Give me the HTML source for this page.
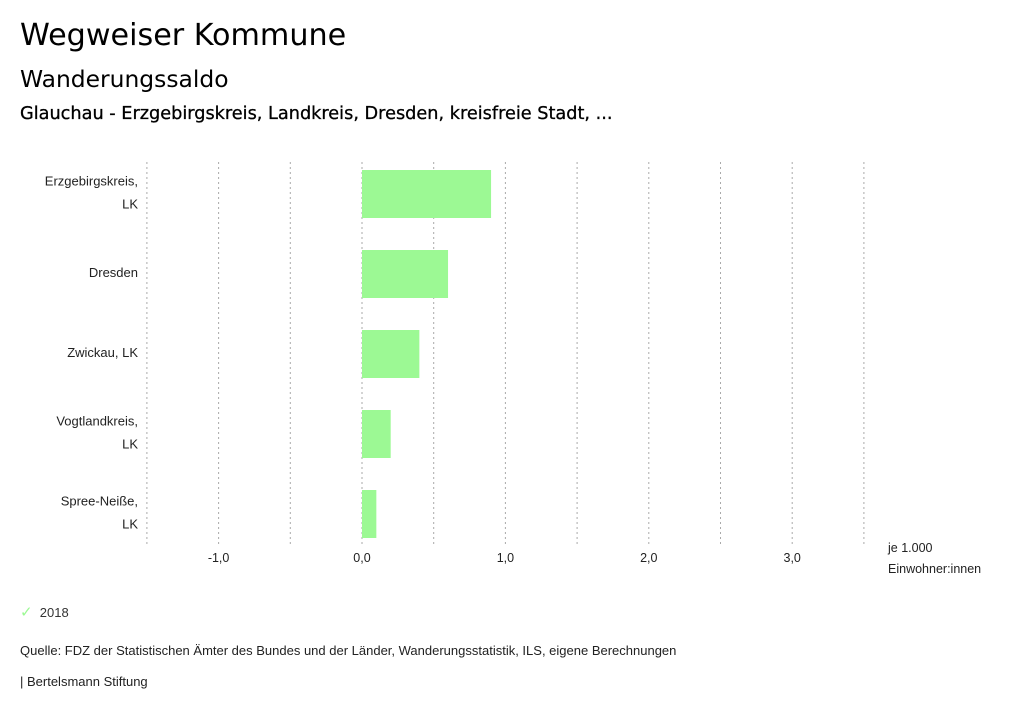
<!DOCTYPE html>
<html><head><meta charset="utf-8"><style>
body{margin:0;width:1024px;height:714px;background:#fff;font-family:"Liberation Sans",sans-serif;color:#000;position:relative;overflow:hidden}
.t{position:absolute;white-space:nowrap}
.d{font-family:"DejaVu Sans",sans-serif}
</style></head><body>
<div class="t d" style="left:20px;top:18px;font-size:30.2px">Wegweiser Kommune</div>
<div class="t d" style="left:20px;top:65px;font-size:23.4px">Wanderungssaldo</div>
<div class="t d" style="left:20px;top:104px;font-size:17.7px;-webkit-text-stroke:0.3px #000">Glauchau - Erzgebirgskreis, Landkreis, Dresden, kreisfreie Stadt, ...</div>
<svg id="chart" width="1024" height="714" style="position:absolute;left:0;top:0"></svg>
<div class="t" style="left:20px;top:603px;font-size:13px;color:#333"><span style="color:#9cf994;font-size:15px">✓</span>&nbsp;&nbsp;2018</div>
<div class="t" style="left:20px;top:643px;font-size:13px;color:#222">Quelle: FDZ der Statistischen Ämter des Bundes und der Länder, Wanderungsstatistik, ILS, eigene Berechnungen</div>
<div class="t" style="left:20px;top:674px;font-size:13px;color:#222">| Bertelsmann Stiftung</div>
<script>
const categories=[["Erzgebirgskreis,","LK"],["Dresden"],["Zwickau, LK"],["Vogtlandkreis,","LK"],["Spree-Neiße,","LK"]];
const values=[0.9,0.6,0.4,0.2,0.1];
const gridValues=[-1.5,-1,-0.5,0,0.5,1,1.5,2,2.5,3,3.5];
const tickValues=[-1,0,1,2,3];
const tickLabels=["-1,0","0,0","1,0","2,0","3,0"];
const svg=document.getElementById('chart');
const NS='http://www.w3.org/2000/svg';
const x=v=>362+(v)*143.4;
const yTop=162, step=80, barH=48;
const y=i=>yTop+i*step+8;
function mk(tag,attrs,txt){const e=document.createElementNS(NS,tag);for(const k in attrs)e.setAttribute(k,attrs[k]);if(txt!=null)e.textContent=txt;svg.appendChild(e);return e;}
gridValues.forEach(v=>{const l=mk('line',{x1:x(v),x2:x(v),y1:162,y2:545,stroke:'#aaa','stroke-dasharray':'2,3','stroke-width':1});

});
tickValues.forEach((v,i)=>{const t=mk('text',{x:x(v),y:562,'text-anchor':'middle','font-size':12.5,fill:'#222','font-family':'Liberation Sans'},tickLabels[i]);

});
values.forEach((v,i)=>{const r=mk('rect',{x:Math.min(x(0),x(v)),y:y(i),width:Math.abs(x(v)-x(0)),height:barH,fill:'#9cf994'});


const lines=categories[i];const cy=y(i)+barH/2;
lines.forEach((s,j)=>{const t=mk('text',{x:138,y:cy+3+(j-(lines.length-1)/2)*23,'text-anchor':'end','font-size':13,fill:'#222','font-family':'Liberation Sans'},s);

});});
const u1=mk('text',{x:888,y:552,'font-size':12.5,fill:'#222','font-family':'Liberation Sans'},'je 1.000');


const u2=mk('text',{x:888,y:573,'font-size':12.5,fill:'#222','font-family':'Liberation Sans'},'Einwohner:innen');


</script>
</body></html>
